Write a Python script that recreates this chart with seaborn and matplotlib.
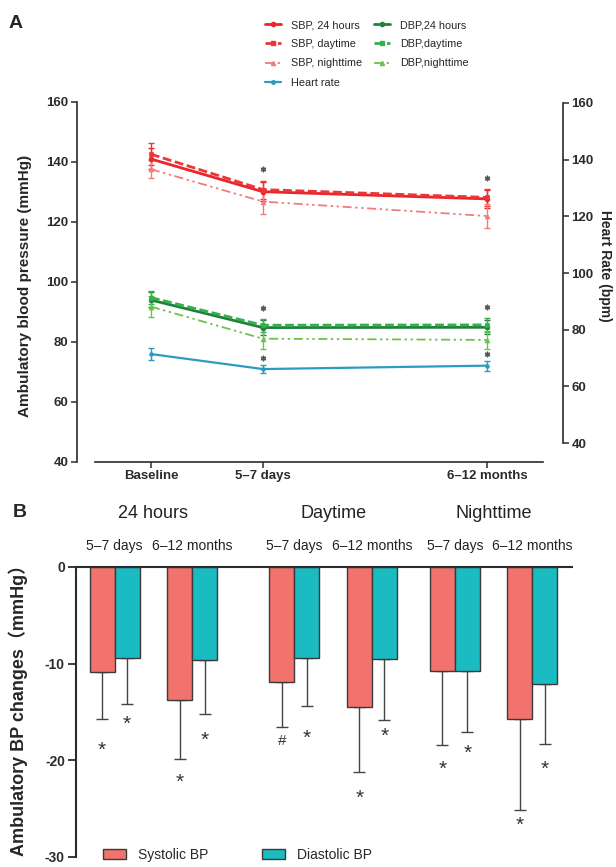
import numpy as np
import pandas as pd
import matplotlib
matplotlib.use("Agg")
import matplotlib.pyplot as plt
import matplotlib.transforms as mtransforms
from matplotlib.lines import Line2D
from matplotlib.patches import Patch
import seaborn as sns

# ---------------- Panel A: ambulatory BP (mmHg) and heart rate (bpm), mean ± SD
visits = ["Baseline", "5–7 days", "6–12 months"]
sbp_24h = [141.0, 130.1, 127.7]
sbp_24h_sd = [3.5, 3.2, 3.0]
sbp_day = [142.6, 130.8, 128.2]
sbp_day_sd = [3.6, 3.0, 2.8]
sbp_night = [137.6, 126.8, 122.0]
sbp_night_sd = [3.0, 4.0, 4.0]
dbp_24h = [94.0, 84.8, 84.9]
dbp_24h_sd = [2.5, 2.4, 2.4]
dbp_day = [94.8, 85.6, 85.7]
dbp_day_sd = [2.3, 2.2, 2.3]
dbp_night = [91.8, 81.1, 80.7]
dbp_night_sd = [3.4, 3.4, 3.1]
heart_rate = [71.4, 66.1, 67.3]
heart_rate_sd = [2.2, 1.4, 1.8]
visit_significant = [False, True, True]

# ---------------- Panel B: change from baseline (mmHg), mean ± SD
periods = ["24 hours", "Daytime", "Nighttime"]
follow_ups = ["5–7 days", "6–12 months"]
sys_change = [-10.9, -13.8, -11.9, -14.5, -10.8, -15.7]
sys_sd = [4.8, 6.1, 4.7, 6.7, 7.6, 9.4]
dia_change = [-9.4, -9.6, -9.4, -9.5, -10.8, -12.1]
dia_sd = [4.8, 5.6, 5.0, 6.3, 6.3, 6.2]
sys_sig = ["*", "*", "#", "*", "*", "*"]
dia_sig = ["*", "*", "*", "*", "*", "*"]

# ---------------- layout
visit_pos = [0, 1, 3]                       # x positions of the three visits
bar_slot = [0, 1, 2.32, 3.32, 4.39, 5.39]   # x positions of the six bar pairs
pair_width = 0.645
sys_gap = [2.6, 1.7, 1.2, 2.0, 1.8, 0.9]    # distance of the marks below the whiskers
dia_gap = [1.4, 2.1, 2.6, 1.0, 1.5, 1.9]

sns.set_style("ticks")
plt.rcParams["font.family"] = ["Liberation Sans", "Noto Sans CJK SC"]
plt.rcParams["axes.unicode_minus"] = False
plt.rcParams["axes.edgecolor"] = "#2b2b2b"
plt.rcParams["xtick.color"] = "#2b2b2b"
plt.rcParams["ytick.color"] = "#2b2b2b"

W, H = 616, 867
fig = plt.figure(figsize=(W / 100, H / 100), dpi=100)


def fbox(x0, y0, x1, y1):
    return [x0 / W, 1 - y1 / H, (x1 - x0) / W, (y1 - y0) / H]


# =============================== Panel A
axA = fig.add_axes(fbox(77, 102, 563, 462))
axR = axA.twinx()

series = [
    (sbp_24h, sbp_24h_sd, "#E8262B", "-", "o", 2.0, "SBP, 24 hours"),
    (sbp_day, sbp_day_sd, "#EE3535", (0, (3.2, 1.3)), "s", 2.0, "SBP, daytime"),
    (sbp_night, sbp_night_sd, "#F27B7B", (0, (5, 2, 1.3, 2, 1.3, 2)), "^", 1.3, "SBP, nighttime"),
    (dbp_24h, dbp_24h_sd, "#22803F", "-", "o", 2.0, "DBP,24 hours"),
    (dbp_day, dbp_day_sd, "#33B24A", (0, (3.2, 1.3)), "s", 2.0, "DBP,daytime"),
    (dbp_night, dbp_night_sd, "#6CC24C", (0, (5, 2, 1.3, 2, 1.3, 2)), "^", 1.3, "DBP,nighttime"),
]

handles = {}
for vals, sd, col, ls, mk, lw, lab in series:
    axA.errorbar(visit_pos, vals, yerr=sd, fmt="none", ecolor=col,
                 elinewidth=1.0, capsize=2.3, capthick=1.0, zorder=2)
    sns.lineplot(x=visit_pos, y=vals, ax=axA, color=col, linestyle=ls,
                 marker=mk, markersize=3.5, linewidth=lw,
                 markeredgecolor=col, markeredgewidth=0.5, zorder=3)
    handles[lab] = Line2D([], [], color=col, linestyle=ls, marker=mk,
                          markersize=3, linewidth=lw, markeredgecolor=col)

hr_col = "#2B9CC0"
axR.errorbar(visit_pos, heart_rate, yerr=heart_rate_sd, fmt="none", ecolor=hr_col,
             elinewidth=1.0, capsize=2.3, capthick=1.0)
sns.lineplot(x=visit_pos, y=heart_rate, ax=axR, color=hr_col, linewidth=1.6,
             marker="o", markersize=2.5, markeredgecolor=hr_col)
handles["Heart rate"] = Line2D([], [], color=hr_col, linewidth=1.6, marker="o",
                               markersize=2.5)

# significance marks above each group at follow-up visits
sbp_top = np.max([np.add(v, s) for v, s, *_ in series[:3]], axis=0)
dbp_top = np.max([np.add(v, s) for v, s, *_ in series[3:]], axis=0)
hr_top = np.add(heart_rate, heart_rate_sd)
for i, sig in enumerate(visit_significant):
    if not sig:
        continue
    axA.plot(visit_pos[i], sbp_top[i] + 3.8, marker=(6, 2, 0), ms=4, color="#555555", ls="none")
    axA.plot(visit_pos[i], dbp_top[i] + 3.6, marker=(6, 2, 0), ms=4, color="#555555", ls="none")
    axR.plot(visit_pos[i], hr_top[i] + 2.4, marker=(6, 2, 0), ms=4, color="#555555", ls="none")

axA.set_xlim(-0.66, 3.68)
axA.set_ylim(40, 160)
axA.set_yticks(np.arange(40, 161, 20))
axA.set_xticks(visit_pos)
axA.set_xticklabels(visits)
axR.set_ylim(33.3, 160.35)
axR.set_yticks(np.arange(40, 161, 20))

for a in (axA, axR):
    a.spines["top"].set_visible(False)
    for s in a.spines.values():
        s.set_linewidth(1.2)
axA.spines["right"].set_visible(False)
axA.spines["bottom"].set_bounds(-0.5, 3.5)
axR.spines["left"].set_visible(False)
axR.spines["bottom"].set_visible(False)
axR.spines["right"].set_bounds(40, 160)
axR.spines["right"].set_visible(True)

axA.tick_params(axis="both", length=4, width=1.1, pad=2, labelsize=9.5)
axR.tick_params(axis="y", length=4, width=1.1, pad=2, labelsize=9.5)
for lab in axA.get_xticklabels() + axA.get_yticklabels() + axR.get_yticklabels():
    lab.set_fontweight("bold")

axA.set_ylabel("Ambulatory blood pressure (mmHg)", fontsize=11, fontweight="bold")
axA.yaxis.set_label_coords(-0.092, 0.49)
axR.set_ylabel("Heart Rate (bpm)", fontsize=10, fontweight="bold", rotation=270)
axR.yaxis.set_label_coords(1.10, 0.545)
axA.set_xlabel("")
axR.set_xlabel("")

order = ["SBP, 24 hours", "SBP, daytime", "SBP, nighttime", "Heart rate",
         "DBP,24 hours", "DBP,daytime", "DBP,nighttime"]
fig.legend([handles[k] for k in order], order, ncol=2, frameon=False,
           loc="upper left", bbox_to_anchor=(265 / W, 1 - 20 / H),
           fontsize=7.8, handlelength=1.5, handletextpad=0.9,
           columnspacing=1.1, labelspacing=0.85, borderpad=0, borderaxespad=0)

fig.text(9 / W, 1 - 28 / H, "A", fontsize=14, fontweight="bold", va="baseline")

# =============================== Panel B
axB = fig.add_axes(fbox(76, 567, 572, 857))

bp_types = ["Systolic BP", "Diastolic BP"]
bar_df = pd.DataFrame({
    "slot": bar_slot * 2,
    "change": sys_change + dia_change,
    "BP": [bp_types[0]] * 6 + [bp_types[1]] * 6,
})
bar_cols = {"Systolic BP": "#F2736E", "Diastolic BP": "#1ABBC1"}
sns.barplot(data=bar_df, x="slot", y="change", hue="BP", hue_order=bp_types,
            native_scale=True, palette=bar_cols, saturation=1, width=pair_width, gap=0,
            errorbar=None, edgecolor="#3a3a3a", linewidth=1.0, legend=False,
            ax=axB, zorder=2)

half = pair_width / 4
for means, sds, sigs, gaps, shift in [(sys_change, sys_sd, sys_sig, sys_gap, -half),
                                      (dia_change, dia_sd, dia_sig, dia_gap, half)]:
    xs = np.array(bar_slot) + shift
    axB.errorbar(xs, means, yerr=[sds, np.zeros(len(sds))], fmt="none",
                 ecolor="#444444", elinewidth=1.0, capsize=4, capthick=1.0, zorder=1)
    for x, m, s, g, sym in zip(xs, means, sds, gaps, sigs):
        yc = m - s - g
        size = 15 if sym == "*" else 11
        rise = 0.58 if sym == "*" else 0.36
        axB.annotate(sym, (x, yc), xytext=(0, -rise * size), textcoords="offset points",
                     ha="center", va="baseline", fontsize=size, color="#333333")

axB.set_xlim(-0.497, 5.90)
axB.set_ylim(-30, 0)
axB.set_yticks([0, -10, -20, -30])
axB.set_xticks([])
axB.set_xlabel("")
axB.spines["bottom"].set_visible(False)
axB.spines["right"].set_visible(False)
axB.spines["top"].set_visible(True)
for s in axB.spines.values():
    s.set_linewidth(1.5)
axB.tick_params(axis="y", length=6, width=1.3, pad=2, labelsize=10)
for lab in axB.get_yticklabels():
    lab.set_fontweight("bold")
axB.set_ylabel("Ambulatory BP changes（mmHg）", fontsize=13, fontweight="bold")
axB.yaxis.set_label_coords(-0.097, 0.52)

trans = mtransforms.blended_transform_factory(axB.transData, fig.transFigure)
for i, period in enumerate(periods):
    xc = (bar_slot[2 * i] + bar_slot[2 * i + 1]) / 2
    axB.text(xc, 1 - 513 / H, period, transform=trans, ha="center", va="center",
             fontsize=13, color="#222222")
    for j, fu in enumerate(follow_ups):
        axB.text(bar_slot[2 * i + j], 1 - 546 / H, fu, transform=trans,
                 ha="center", va="center", fontsize=10, color="#222222")

leg_handles = [Patch(facecolor=bar_cols[t], edgecolor="#3a3a3a", linewidth=1.0) for t in bp_types]
fig.legend(leg_handles, bp_types, ncol=2, frameon=False, loc="center left",
           bbox_to_anchor=(103 / W, 1 - 855 / H), fontsize=10,
           handlelength=1.65, handleheight=0.65, handletextpad=0.85,
           columnspacing=3.9, borderpad=0, borderaxespad=0)

fig.text(13 / W, 1 - 517 / H, "B", fontsize=14, fontweight="bold", va="baseline")

fig.savefig("out.png", dpi=100)
